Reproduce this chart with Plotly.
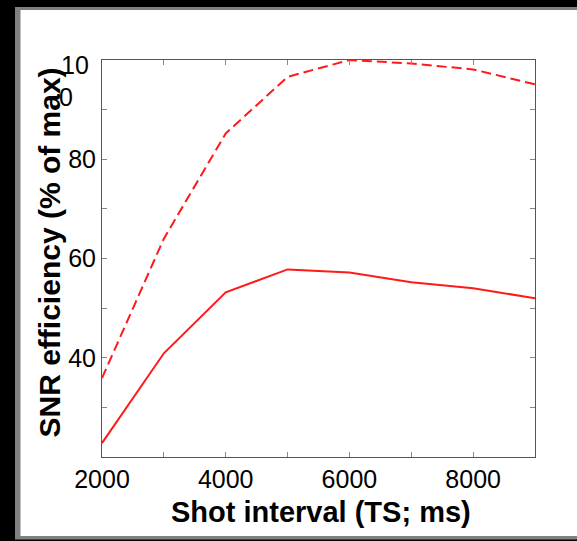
import plotly.graph_objects as go

# ---- data ----
shot_interval = [2000, 3000, 4000, 5000, 6000, 7000, 8000, 9000]
snr_solid = [22.8, 40.9, 53.2, 57.8, 57.2, 55.2, 54.0, 52.0]
snr_dashed = [35.9, 64.0, 85.2, 96.6, 100.0, 99.3, 98.1, 95.1]

x_tick_vals = [2000, 3000, 4000, 5000, 6000, 7000, 8000, 9000]
x_tick_text = ["2000", "", "4000", "", "6000", "", "8000", ""]
y_tick_vals = [20, 30, 40, 50, 60, 70, 80, 90, 100]
y_tick_text = ["", "", "40", "", "60", "", "80", "", ""]

x_title = "Shot interval (TS; ms)"
y_title = "SNR efficiency (% of max)"

# ---- layout geometry (pixels) ----
W, H = 577, 541
L, R, T, B = 102, 535, 60, 457
PW, PH = R - L, B - T


def px(x):
    return (x - L) / PW


def py(y):
    return (B - y) / PH


FONT = "Liberation Sans, Arial, sans-serif"

fig = go.Figure()
fig.add_trace(go.Scatter(x=shot_interval, y=snr_dashed, mode="lines",
                         line=dict(color="#ff1a1a", width=2, dash="10px,5px"),
                         showlegend=False, hoverinfo="skip"))
fig.add_trace(go.Scatter(x=shot_interval, y=snr_solid, mode="lines",
                         line=dict(color="#ff1a1a", width=2),
                         showlegend=False, hoverinfo="skip"))

axis_common = dict(showgrid=False, zeroline=False, showline=True,
                   linecolor="#555555", linewidth=1, ticks="inside",
                   ticklen=5, tickcolor="#888888", mirror="ticks",
                   tickfont=dict(family=FONT, size=25, color="black"))

fig.update_xaxes(range=[2000, 9000], tickmode="array", tickvals=x_tick_vals,
                 ticktext=x_tick_text, **axis_common)
fig.update_yaxes(range=[20, 100], tickmode="array", tickvals=y_tick_vals,
                 ticktext=y_tick_text, **axis_common)

shapes = [
    dict(type="rect", xref="paper", yref="paper", layer="below",
         x0=px(15), x1=px(590), y0=py(539.5), y1=py(7),
         fillcolor="#808080", line=dict(width=0)),
    dict(type="rect", xref="paper", yref="paper", layer="below",
         x0=px(20.5), x1=px(590), y0=py(536), y1=py(10),
         fillcolor="white", line=dict(width=0)),
]

annotations = [
    dict(text="10", xref="paper", yref="paper", x=px(74.5), y=py(64.5),
         xanchor="center", yanchor="middle", showarrow=False,
         font=dict(family=FONT, size=25, color="black")),
    dict(text="0", xref="paper", yref="paper", x=px(65.5), y=py(96.5),
         xanchor="center", yanchor="middle", showarrow=False,
         font=dict(family=FONT, size=25, color="black")),
    dict(text="<b>%s</b>" % y_title, xref="paper", yref="paper",
         x=px(48.5), y=py(253), textangle=-90,
         xanchor="center", yanchor="middle", showarrow=False,
         font=dict(family=FONT, size=30, color="black")),
    dict(text="<b>%s</b>" % x_title, xref="paper", yref="paper",
         x=px(321), y=py(512), xanchor="center", yanchor="middle",
         showarrow=False, font=dict(family=FONT, size=29, color="black")),
]

fig.update_layout(width=W, height=H, margin=dict(l=L, r=W - R, t=T, b=H - B),
                  paper_bgcolor="black", plot_bgcolor="white",
                  shapes=shapes, annotations=annotations, showlegend=False)

fig.write_html("out.html")
